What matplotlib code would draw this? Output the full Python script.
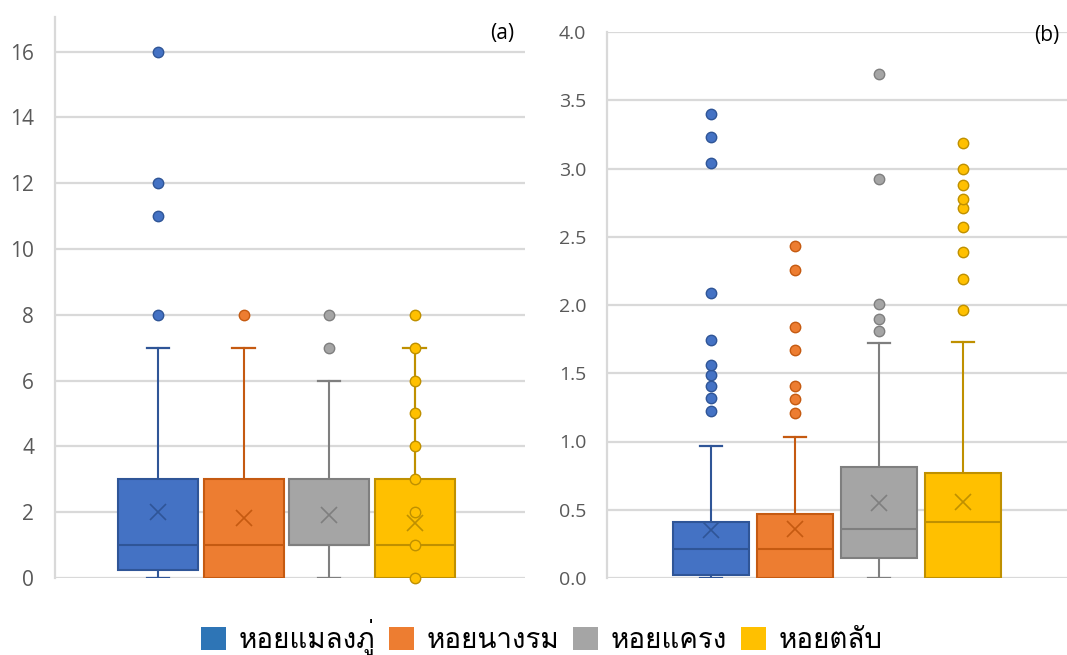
import matplotlib
matplotlib.use("Agg")
import matplotlib.pyplot as plt
from matplotlib import font_manager
from matplotlib.ft2font import FT2Font
from matplotlib.patches import Patch

# ---------------- data ----------------
species = ["หอยแมลงภู่", "หอยนางรม", "หอยแครง", "หอยตลับ"]

# panel (a)
a_q1 = [0.25, 0.0, 1.0, 0.0]
a_med = [1.0, 1.0, 1.0, 1.0]
a_q3 = [3.0, 3.0, 3.0, 3.0]
a_lo = [0.0, 0.0, 0.0, 0.0]
a_hi = [7.0, 7.0, 6.0, 7.0]
a_mean = [2.02, 1.82, 1.92, 1.68]
a_out = [[8, 11, 12, 16], [8], [7, 8], [8]]
a_inner_last = [0, 1, 2, 3, 4, 5, 6, 7]   # inner points shown for the last group

# panel (b)
b_q1 = [0.02, 0.0, 0.15, 0.0]
b_med = [0.21, 0.21, 0.36, 0.41]
b_q3 = [0.41, 0.47, 0.81, 0.77]
b_lo = [0.0, 0.0, 0.0, 0.0]
b_hi = [0.97, 1.03, 1.72, 1.73]
b_mean = [0.35, 0.36, 0.55, 0.555]
b_out = [
    [1.22, 1.32, 1.41, 1.49, 1.56, 1.74, 2.09, 3.04, 3.23, 3.40],
    [1.21, 1.31, 1.41, 1.67, 1.84, 2.26, 2.43],
    [1.81, 1.90, 2.01, 2.92, 3.69],
    [1.96, 2.19, 2.39, 2.57, 2.71, 2.78, 2.88, 3.00, 3.19],
]

a_ticks = [0, 2, 4, 6, 8, 10, 12, 14, 16]
b_ticks = [0.0, 0.5, 1.0, 1.5, 2.0, 2.5, 3.0, 3.5, 4.0]

# ---------------- styles ----------------
fills = ["#4472C4", "#ED7D31", "#A5A5A5", "#FFC000"]
edges = ["#2F5597", "#C55A11", "#7F7F7F", "#BF9000"]
legend_fills = ["#2E75B6", "#ED7D31", "#A5A5A5", "#FFC000"]
grid_c = "#D9D9D9"
tick_c = "#595959"


def font_with(ch):
    for f in font_manager.fontManager.ttflist:
        try:
            if ord(ch) in FT2Font(f.fname).get_charmap():
                return f.name
        except Exception:
            continue
    return None


thai = font_with("ห")
num_family = ["Open Sans", "DejaVu Sans"]
thai_family = ([thai] if thai else []) + ["DejaVu Sans"]

fig = plt.figure(figsize=(10.67, 6.55), dpi=100)
fig.patch.set_facecolor("white")

ax_a = fig.add_axes([55 / 1067, 1 - 578 / 655, 470 / 1067, 561 / 655])
ax_b = fig.add_axes([607 / 1067, 1 - 578 / 655, 460 / 1067, 546 / 655])


def draw_panel(ax, q1, med, q3, lo, hi, mean, outs, ticks, ylim, xlim, width, fmt,
               tick_size, tag, tagxy):
    stats = []
    for i in range(4):
        stats.append(dict(q1=q1[i], med=med[i], q3=q3[i], whislo=lo[i], whishi=hi[i],
                          mean=mean[i], fliers=[]))
    pos = [1, 2, 3, 4]
    bp = ax.bxp(stats, positions=pos, widths=width, patch_artist=True, showmeans=True,
                showfliers=False, manage_ticks=False)
    for i in range(4):
        box = bp["boxes"][i]
        box.set_facecolor(fills[i])
        box.set_edgecolor(edges[i])
        box.set_linewidth(1.5)
        box.set_zorder(3)
        bp["medians"][i].set_color(edges[i])
        bp["medians"][i].set_linewidth(1.5)
        bp["medians"][i].set_zorder(4)
        for w in bp["whiskers"][2 * i:2 * i + 2]:
            w.set_color(edges[i])
            w.set_linewidth(1.5)
            w.set_zorder(2)
        for c in bp["caps"][2 * i:2 * i + 2]:
            c.set_color(edges[i])
            c.set_linewidth(1.6)
            c.set_zorder(2)
            xd = c.get_xdata()
            mid = (xd[0] + xd[1]) / 2
            c.set_xdata([mid - width * 0.14, mid + width * 0.14])
        m = bp["means"][i]
        m.set_marker("x")
        m.set_markersize(12)
        m.set_markeredgewidth(1.2)
        m.set_markeredgecolor(edges[i])
        m.set_markerfacecolor("none")
        m.set_zorder(5)
        ax.plot([pos[i]] * len(outs[i]), outs[i], "o", ms=7.5, mfc=fills[i],
                mec=edges[i], mew=1.0, zorder=6, clip_on=False)

    ax.set_ylim(*ylim)
    ax.set_xlim(*xlim)
    ax.set_yticks(ticks)
    ax.set_yticklabels([fmt.format(t) for t in ticks], fontsize=tick_size, color=tick_c,
                       family=num_family)
    ax.set_xticks([])
    ax.tick_params(axis="y", length=0, pad=15)
    for t in ticks:
        ax.axhline(t, color=grid_c, lw=1.6, zorder=0)
    for s in ["top", "right", "bottom"]:
        ax.spines[s].set_visible(False)
    ax.spines["left"].set_color(grid_c)
    ax.spines["left"].set_linewidth(1.6)
    ax.text(tagxy[0], tagxy[1], tag, transform=ax.transAxes, fontsize=15, color="black",
            ha="right", va="center", family=num_family)


draw_panel(ax_a, a_q1, a_med, a_q3, a_lo, a_hi, a_mean, a_out, a_ticks, (0, 17.05),
           (1 - 103 / 85.5, 1 + 367 / 85.5), 80 / 85.5, "{:g}", 15, "(a)", (0.978, 0.971))
draw_panel(ax_b, b_q1, b_med, b_q3, b_lo, b_hi, b_mean, b_out, b_ticks, (0, 4.0),
           (1 - 104 / 84, 1 + 356 / 84), 76 / 84, "{:.1f}", 14, "(b)", (0.983, 0.994))

# inner data points for the last group of panel (a)
ax_a.plot([4] * len(a_inner_last), a_inner_last, "o", ms=7.5, mfc=fills[3], mec=edges[3],
          mew=1.0, zorder=6, clip_on=False)
ax_a.plot([4, 4], [a_q3[3], a_hi[3]], color=edges[3], lw=1.5, zorder=5)

handles = [Patch(facecolor=legend_fills[i], edgecolor="none") for i in range(4)]
fig.legend(handles, species, loc="center", bbox_to_anchor=(0.508, 1 - 637 / 655),
           ncol=4, frameon=False, prop=dict(family=thai_family, size=20),
           handlelength=0.9, handleheight=0.9, handletextpad=0.45, columnspacing=0.5)

fig.savefig("out.png", dpi=100, facecolor="white")
